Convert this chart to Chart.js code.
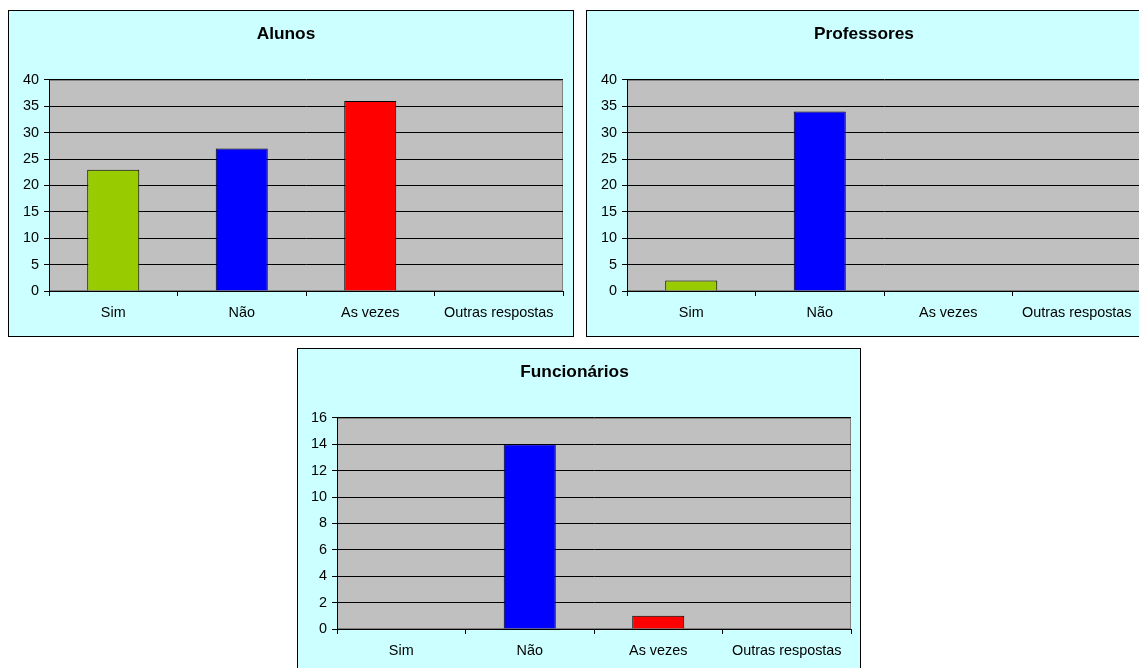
<!DOCTYPE html>
<html>
<head>
<meta charset="utf-8">
<script src="https://cdn.jsdelivr.net/npm/chart.js@4.4.1/dist/chart.umd.min.js"></script>
<style>
  html, body { margin: 0; padding: 0; background: #fff; overflow: hidden; width: 1139px; height: 668px; }
  .panel { position: absolute; border: 1px solid #000; background: #CCFFFF; }
  .panel canvas { display: block; }
</style>
</head>
<body>
<div class="panel" style="left:8px; top:10px;"><canvas id="alunos" width="564" height="325"></canvas></div>
<div class="panel" style="left:586px; top:10px;"><canvas id="professores" width="564" height="325"></canvas></div>
<div class="panel" style="left:297px; top:348px;"><canvas id="funcionarios" width="562" height="325"></canvas></div>
<script>
const categories = ['Sim', 'Não', 'As vezes', 'Outras respostas'];
const alunosValues = [23, 27, 36, 0];
const professoresValues = [2, 34, 0, 0];
const funcionariosValues = [0, 14, 1, 0];
// y axis: [max, step]
const alunosAxis = [40, 5];
const professoresAxis = [40, 5];
const funcionariosAxis = [16, 2];

const barColors = ['#99CC00', '#0000FF', '#FF0000', '#FFFF00'];

Chart.defaults.font.family = '"Liberation Sans", Arial, sans-serif';
Chart.defaults.color = '#000';

// grey plot area behind the bars
const plotArea = {
    id: 'plotArea',
    beforeDraw(chart) {
        const { ctx, chartArea: a } = chart;
        ctx.save();
        ctx.fillStyle = '#C0C0C0';
        ctx.fillRect(a.left, a.top, a.right - a.left, a.bottom - a.top);
        ctx.strokeStyle = '#808080';
        ctx.lineWidth = 1;
        ctx.strokeRect(a.left + 0.5, a.top + 0.5, a.right - a.left - 1, a.bottom - a.top - 1);
        ctx.restore();
    }
};

function renderBars(canvasId, title, values, axis, yWidth, rightPad) {
    const ctx = document.getElementById(canvasId).getContext('2d');
    return new Chart(ctx, {
        type: 'bar',
        plugins: [plotArea],
        data: {
            labels: categories,
            datasets: [{
                data: values,
                backgroundColor: barColors,
                borderColor: '#000',
                borderWidth: 1,
                barPercentage: 0.405,
                categoryPercentage: 1
            }]
        },
        options: {
            responsive: false,
            animation: false,
            devicePixelRatio: 1,
            layout: { padding: { left: 0, right: rightPad, top: 0, bottom: 0 } },
            plugins: {
                legend: { display: false },
                tooltip: { enabled: false },
                title: {
                    display: true,
                    text: title,
                    color: '#000',
                    font: { size: 17.3, weight: 'bold' },
                    padding: { top: 12.6, bottom: 35.6 }
                }
            },
            scales: {
                x: {
                    grid: {
                        offset: true,
                        drawOnChartArea: false,
                        drawTicks: true,
                        tickLength: 5,
                        color: '#000'
                    },
                    border: { color: '#000', width: 1 },
                    ticks: { font: { size: 14.4 }, color: '#000', padding: 8, maxRotation: 0, autoSkip: false },
                    afterFit: (scale) => { scale.height = 45; }
                },
                y: {
                    min: 0,
                    max: axis[0],
                    ticks: { stepSize: axis[1], font: { size: 14.4 }, color: '#000', padding: 5 },
                    grid: { color: '#000', lineWidth: 1, tickLength: 5 },
                    border: { color: '#000', width: 1 },
                    afterFit: (scale) => { scale.width = yWidth; }
                }
            }
        }
    });
}

renderBars('alunos', 'Alunos', alunosValues, alunosAxis, 40, 10);
renderBars('professores', 'Professores', professoresValues, professoresAxis, 40, 10);
renderBars('funcionarios', 'Funcionários', funcionariosValues, funcionariosAxis, 39, 9);
</script>
</body>
</html>
